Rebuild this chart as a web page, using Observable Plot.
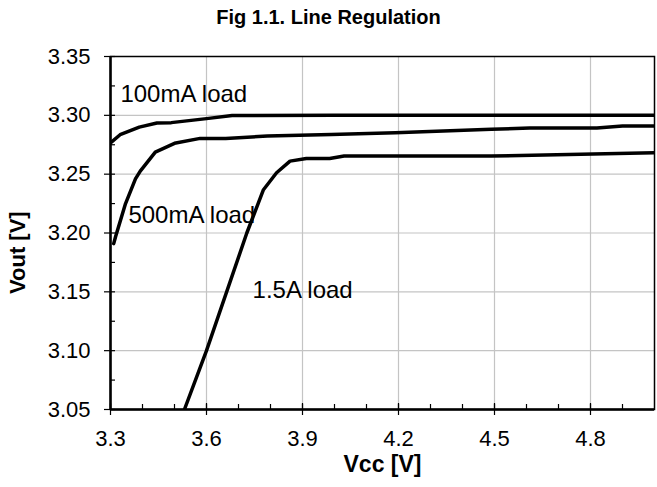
<!DOCTYPE html>
<html>
<head>
<meta charset="utf-8">
<script src="https://cdn.jsdelivr.net/npm/d3@7"></script>
<script src="https://cdn.jsdelivr.net/npm/@observablehq/plot@0.6"></script>
<style>
  html, body { margin: 0; padding: 0; background: #fff; }
  body { width: 657px; height: 487px; overflow: hidden; font-family: "Liberation Sans", Arial, sans-serif; }
  #title { height: 34px; line-height: 34px; text-align: center; font-weight: bold; font-size: 20px; color: #000; }
</style>
</head>
<body>
<div id="title">Fig 1.1. Line Regulation</div>
<div id="chart"></div>
<script>
// Data
const vcc100 = [3.30, 3.33, 3.39, 3.445, 3.49, 3.60, 3.68, 4.0, 4.5, 5.0];
const vout100 = [3.2765, 3.2835, 3.2900, 3.2935, 3.2938, 3.2972, 3.2998, 3.300, 3.300, 3.300];

const vcc500 = [3.31, 3.316, 3.347, 3.378, 3.393, 3.44, 3.50, 3.58, 3.66, 3.79, 3.99, 4.19, 4.49, 4.61, 4.82, 4.90, 5.0];
const vout500 = [3.191, 3.197, 3.225, 3.246, 3.2526, 3.2688, 3.2762, 3.2804, 3.2804, 3.2824, 3.2838, 3.2853, 3.2881, 3.2892, 3.2892, 3.2909, 3.2909];

const vcc1500 = [3.531, 3.60, 3.726, 3.778, 3.819, 3.861, 3.912, 3.985, 4.03, 4.49, 5.0];
const vout1500 = [3.05, 3.10, 3.20, 3.2368, 3.2512, 3.2611, 3.2634, 3.2634, 3.2654, 3.2654, 3.2683];

const labelText = ["100mA load", "500mA load", "1.5A load"];
const labelX = [3.331, 3.356, 3.744];
const labelY = [3.318, 3.2153, 3.151];

const xTicks = [3.3, 3.6, 3.9, 4.2, 4.5, 4.8];
const xMinor = d3.range(33, 50).map(d => d / 10);
const yTicks = [3.05, 3.10, 3.15, 3.20, 3.25, 3.30, 3.35];
const yMinor = d3.range(0, 13).map(d => 3.05 + d * 0.025);
const xGrid = [3.6, 3.9, 4.2, 4.5, 4.8];
const yGrid = [3.10, 3.15, 3.20, 3.25, 3.30];

const font = "'Liberation Sans', Arial, sans-serif";

const chart = Plot.plot({
  width: 657,
  height: 453,
  marginTop: 22,
  marginLeft: 110,
  marginRight: 3,
  marginBottom: 78,
  style: { fontFamily: font, fontSize: "22px", color: "#000", background: "#fff" },
  x: { domain: [3.3, 5.0] },
  y: { domain: [3.05, 3.35] },
  marks: [
    Plot.gridX(xGrid, { stroke: "#c4c4c4", strokeOpacity: 1, strokeWidth: 1.2 }),
    Plot.gridY(yGrid, { stroke: "#c4c4c4", strokeOpacity: 1, strokeWidth: 1.2 }),
    Plot.frame({ stroke: "#000", strokeWidth: 1.5 }),
    Plot.axisX(xMinor, { anchor: "bottom", tickSize: 5, text: null, dy: -5, strokeWidth: 1.2, label: null }),
    Plot.axisY(yMinor, { anchor: "left", tickSize: 5, text: null, dx: 5, strokeWidth: 1.2, label: null }),
    Plot.axisX(xTicks, { anchor: "bottom", tickSize: 12, dy: -6, tickPadding: 15, fontSize: 22, strokeWidth: 1.2, label: null, tickFormat: d3.format(".1f") }),
    Plot.axisY(yTicks, { anchor: "left", tickSize: 6, tickPadding: 14, fontSize: 22, strokeWidth: 1.2, label: null, tickFormat: d3.format(".2f") }),
    Plot.ruleX([3.3], { stroke: "#000", strokeWidth: 2.5 }),
    Plot.ruleY([3.05], { stroke: "#000", strokeWidth: 2.5 }),
    Plot.line(vcc100, { x: vcc100, y: vout100, stroke: "#000", strokeWidth: 3.5, clip: true }),
    Plot.line(vcc500, { x: vcc500, y: vout500, stroke: "#000", strokeWidth: 3.5, clip: true }),
    Plot.line(vcc1500, { x: vcc1500, y: vout1500, stroke: "#000", strokeWidth: 3.5, clip: true }),
    Plot.text(labelText, { x: labelX, y: labelY, text: d => d, textAnchor: "start", fontSize: 24, fill: "#000" }),
    Plot.text(["Vcc [V]"], { frameAnchor: "bottom", dy: 62, text: d => d, fontWeight: "bold", fontSize: 23, fill: "#000" }),
    Plot.text(["Vout [V]"], { frameAnchor: "left", dx: -93, dy: 61, rotate: -90, text: d => d, fontWeight: "bold", fontSize: 22, fill: "#000" })
  ]
});
document.getElementById("chart").appendChild(chart);
</script>
</body>
</html>
